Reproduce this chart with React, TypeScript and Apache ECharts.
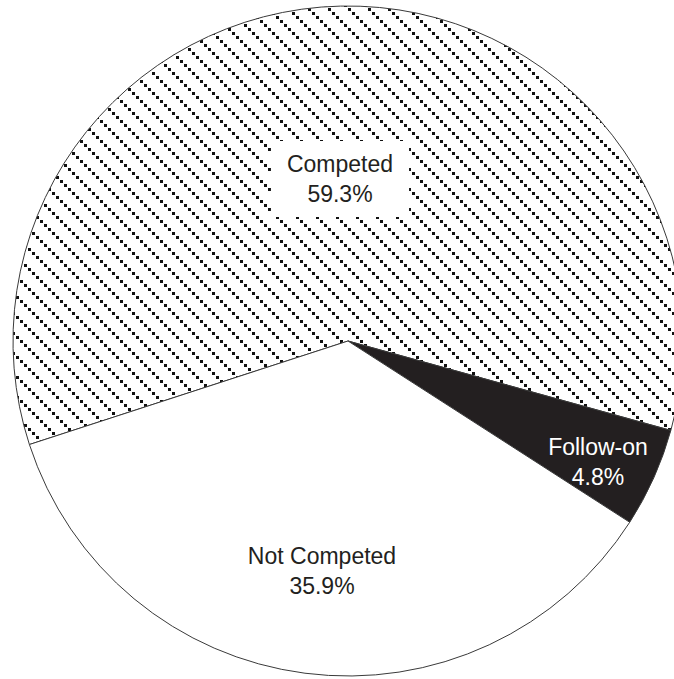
import React, { useEffect, useRef } from "react";
import * as echarts from "echarts";

// Share of awards by competition type (percent)
const categories = ["Competed", "Follow-on", "Not Competed"];
const shares = [59.3, 4.8, 35.9];

// Label anchor points (pixel centers of each two-line label)
const labelAnchors: Record<string, [number, number]> = {
  Competed: [340, 179],
  "Follow-on": [598, 462],
  "Not Competed": [322, 571],
};

const INK = "#231f20";
const TILE = 20;

// Small tile with a dotted "\" diagonal, repeated to hatch a slice
function makeHatchTile(): string {
  const c = document.createElement("canvas");
  c.width = TILE;
  c.height = TILE;
  const ctx = c.getContext("2d")!;
  ctx.fillStyle = "#ffffff";
  ctx.fillRect(0, 0, TILE, TILE);
  ctx.fillStyle = "#111111";
  for (let i = 0; i < TILE; i += 4) {
    ctx.fillRect(i, i, 3, 3);
  }
  return c.toDataURL();
}

export default function App() {
  const ref = useRef<HTMLDivElement>(null);

  useEffect(() => {
    if (!ref.current) return;
    const chart = echarts.init(ref.current, undefined, { renderer: "svg" });
    const tile = makeHatchTile();

    const fills: Record<string, any> = {
      Competed: { image: tile, repeat: "repeat", imageWidth: TILE, imageHeight: TILE },
      "Follow-on": INK,
      "Not Competed": "#ffffff",
    };

    const data = categories.map((name, i) => ({
      name,
      value: shares[i],
      itemStyle: { color: fills[name] },
      label:
        name === "Competed"
          ? { backgroundColor: "#ffffff", padding: [8, 16], color: INK }
          : name === "Follow-on"
          ? { color: "#ffffff" }
          : { color: INK },
    }));

    chart.setOption({
      animation: false,
      backgroundColor: "#ffffff",
      series: [
        {
          type: "pie",
          center: [348, 341],
          radius: 335,
          startAngle: 198,
          clockwise: true,
          silent: true,
          data,
          itemStyle: {
            borderColor: "#3a3a3a",
            borderWidth: 1,
          },
          label: {
            show: true,
            position: "inside",
            formatter: "{b}\n{c}%",
            fontFamily: "'Liberation Sans', Arial, Helvetica, sans-serif",
            fontSize: 23,
            lineHeight: 30,
            align: "center",
          },
          labelLine: { show: false },
          labelLayout: (params: any) => {
            const name = categories[params.dataIndex];
            const [x, y] = labelAnchors[name];
            return { x, y, align: "center", verticalAlign: "middle" };
          },
          emphasis: { disabled: true },
        },
      ],
    });

    return () => chart.dispose();
  }, []);

  return (
    <div
      ref={ref}
      style={{ position: "fixed", left: 0, top: 0, width: 674, height: 679 }}
    />
  );
}
